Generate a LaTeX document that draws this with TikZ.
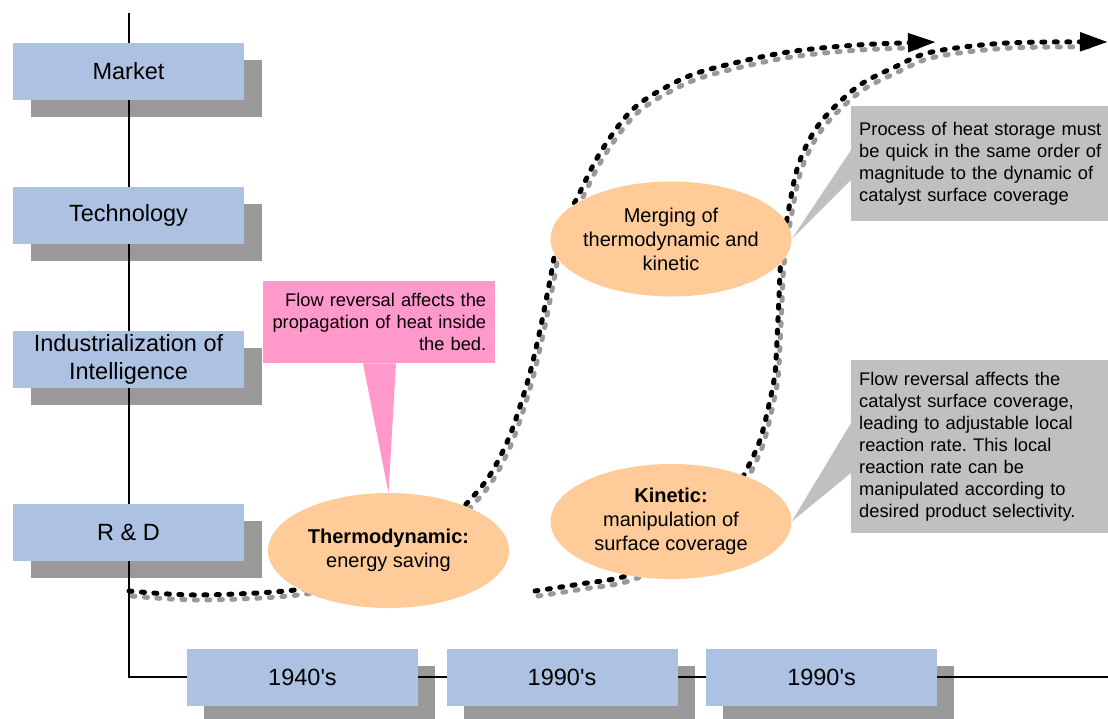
\documentclass[tikz,border=0pt]{standalone}
\usepackage{fontspec}
\setmainfont{Liberation Sans}
\newfontfamily\plainfont{Liberation Sans}
\usetikzlibrary{shapes.geometric,arrows.meta}
\definecolor{boxblue}{RGB}{173,194,227}
\definecolor{shadowgray}{RGB}{153,153,153}
\definecolor{ellorange}{RGB}{255,204,153}
\definecolor{callgray}{RGB}{192,192,192}
\definecolor{callpink}{RGB}{255,153,204}
\newcommand{\apos}{{\plainfont '}}
\frenchspacing
\begin{document}
\begin{tikzpicture}[x=1pt,y=-1pt,
  bluebox/.style={fill=boxblue, minimum width=231pt, minimum height=57pt, inner sep=0pt,
    align=center, font=\fontsize{23.5}{28}\selectfont},
  shadowbox/.style={fill=shadowgray, minimum width=231pt, minimum height=57pt, inner sep=0pt},
  ell/.style={ellipse, fill=ellorange, minimum width=241pt, minimum height=115pt,
    inner sep=0pt, inner xsep=-14pt, align=center, font=\fontsize{20}{24}\selectfont},
  callout/.style={fill=callgray, inner ysep=0pt, inner xsep=8pt, align=left,
    font=\fontsize{18.3}{22}\selectfont, anchor=north west},
  dotline/.style={line width=5pt, line cap=round, dash pattern=on 3pt off 9.5pt},
  dotshadow/.style={dotline, draw=shadowgray},
  axis/.style={line width=1.6pt}]
\clip (0,0) rectangle (1108,718);
\fill[white] (0,0) rectangle (1108,718);

% shadows of boxes
\node[shadowbox] (smarket) at (146.5,88.5) {};
\node[shadowbox] (stech) at (146.5,232.5) {};
\node[shadowbox] (sindus) at (146.5,376.5) {};
\node[shadowbox] (srd) at (146.5,549.5) {};
\node[shadowbox] (sy1) at (319.5,694.5) {};
\node[shadowbox] (sy2) at (579,694.5) {};
\node[shadowbox] (sy3) at (838.5,694.5) {};

% axis
\coordinate (axtop) at (129,13);
\coordinate (axcorner) at (129,677);
\coordinate (axend) at (1108,677);
\draw[axis] (axtop) -- (axcorner) -- (axend);

% boxes
\node[bluebox] (market) at (128.5,71.5) {Market};
\node[bluebox] (tech) at (128.5,215.5) {Technology};
\node[bluebox] (indus) at (128.5,359.5) {Industrialization of\\Intelligence};
\node[bluebox] (rd) at (128.5,532.5) {R \& D};
\node[bluebox] (y1) at (302.5,677.5) {1940\apos s};
\node[bluebox] (y2) at (562,677.5) {1990\apos s};
\node[bluebox] (y3) at (821.5,677.5) {1990\apos s};

% curves
\coordinate (c1s) at (129,591);
\coordinate (c1e) at (936,42);
\coordinate (c2s) at (535,591);
\coordinate (c2e) at (1108,42);
\draw[dotshadow, shorten >=24pt] plot[smooth, tension=0.55] coordinates {(132,596) (203,600) (306,594) (383,575) (443,535) (471,507) (493,480) (513,440) (531,385) (543,335) (553,285) (563,235) (579,205) (603,158) (635,115) (673,90) (710,75) (785,58) (860,50) (939,47)};
\draw[dotline, -{Triangle[length=28pt,width=18pt]}] plot[smooth, tension=0.55] coordinates {(c1s) (200,595) (303,589) (380,570) (440,530) (468,502) (490,475) (510,435) (528,380) (540,330) (550,280) (560,230) (576,200) (600,153) (632,110) (670,85) (707,70) (782,53) (857,45) (c1e)};
\draw[dotshadow, shorten >=24pt] plot[smooth, tension=0.55] coordinates {(538,596) (583,589) (632,580) (693,550) (733,505) (748,478) (763,445) (773,405) (778,378) (780,345) (782,302) (784,265) (791,218) (802,168) (823,128) (860,92) (898,72) (935,57) (1010,48) (1111,47)};
\draw[dotline, -{Triangle[length=28pt,width=18pt]}] plot[smooth, tension=0.55] coordinates {(c2s) (580,584) (629,575) (690,545) (730,500) (745,473) (760,440) (770,400) (775,373) (777,340) (779,297) (781,260) (788,213) (799,163) (820,123) (857,87) (895,67) (932,52) (1007,43) (c2e)};

% ellipses
\node[ell] (th) at (388.5,550.5) {\textbf{Thermodynamic:}\\energy saving};
\node[ell] (mg) at (671,239) {Merging of\\thermodynamic and\\kinetic};
\node[ell] (kn) at (671,521.5) {\textbf{Kinetic:}\\manipulation of\\surface coverage};

% callouts
\node[callout, text width=270pt, minimum height=115pt] (ca) at (851,106)
  {Process of heat storage must\\be quick in the same order of\\magnitude to the dynamic of\\catalyst surface coverage};
\fill[callgray] ([yshift=-44pt]ca.north west) -- ([yshift=-74pt]ca.north west) -- (mg.east) -- cycle;
\node[callout, text width=270pt, minimum height=173pt] (cb) at (851,360)
  {Flow reversal affects the\\catalyst surface coverage,\\leading to adjustable local\\reaction rate. This local\\reaction rate can be\\manipulated according to\\desired product selectivity.};
\fill[callgray] ([yshift=-63pt]cb.north west) -- ([yshift=-113pt]cb.north west) -- (kn.east) -- cycle;
\node[callout, fill=callpink, inner xsep=9pt, minimum width=232pt, text width=214pt, minimum height=82pt, align=right] (cp) at (263,281)
  {Flow reversal affects the\\propagation of heat inside\\the bed.};
\fill[callpink] ([xshift=100pt]cp.south west) -- ([xshift=133pt]cp.south west) -- (th.north) -- cycle;
\end{tikzpicture}
\end{document}
